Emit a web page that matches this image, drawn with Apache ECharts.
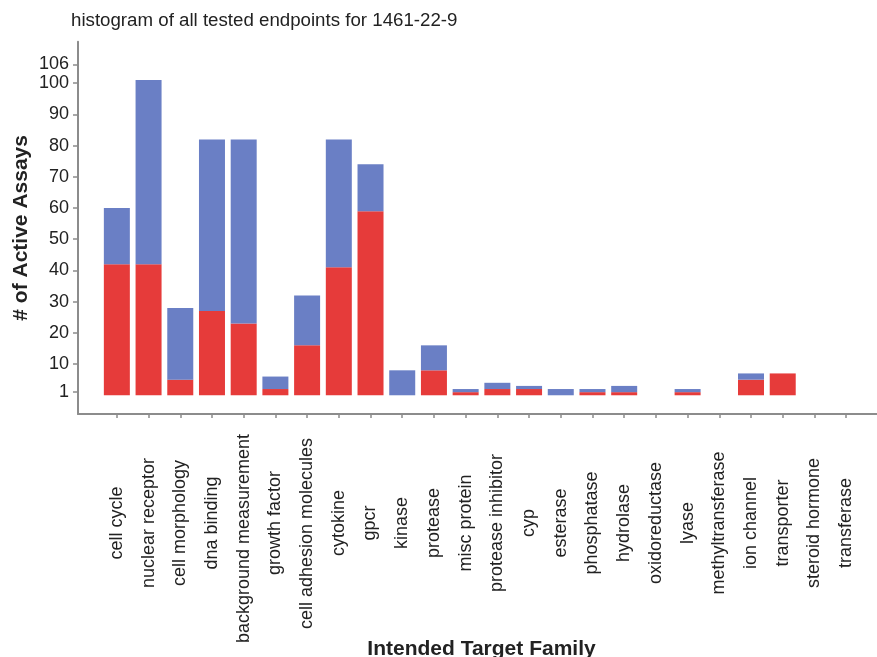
<!DOCTYPE html>
<html>
<head>
<meta charset="utf-8">
<script src="https://cdn.jsdelivr.net/npm/echarts@6/dist/echarts.min.js"></script>
<style>
  html, body { margin: 0; padding: 0; background: #fff; }
  #chart { width: 877px; height: 657px; }
</style>
</head>
<body>
<div id="chart"></div>
<script>
// Target families on the horizontal axis
const categories = [
  'cell cycle', 'nuclear receptor', 'cell morphology', 'dna binding',
  'background measurement', 'growth factor', 'cell adhesion molecules',
  'cytokine', 'gpcr', 'kinase', 'protease', 'misc protein',
  'protease inhibitor', 'cyp', 'esterase', 'phosphatase', 'hydrolase',
  'oxidoreductase', 'lyase', 'methyltransferase', 'ion channel',
  'transporter', 'steroid hormone', 'transferase'
];

// Lower (red) part of each stacked bar
const lowerCounts = [42, 42, 5, 27, 23, 2, 16, 41, 59, 0, 8, 1, 2, 2, 0, 1, 1, 0, 1, 0, 5, 7, 0, 0];

// Upper (blue) part stacked on top
const upperCounts = [18, 59, 23, 55, 59, 4, 16, 41, 15, 8, 8, 1, 2, 1, 2, 1, 2, 0, 1, 0, 2, 0, 0, 0];

// Tick labels on the count axis
const yTickValues = [1, 10, 20, 30, 40, 50, 60, 70, 80, 90, 100, 106];

const FONT = '"Liberation Sans", Arial, Helvetica, sans-serif';
const AXIS_GREY = '#8c8c8c';
const Y_MIN = -6;
const Y_MAX = 113.3;

// long labels sit a little lower so they keep clear of the axis
const labelPadRight = { 'background measurement': 31, 'cell adhesion molecules': 21 };

const categoryData = categories.map(function (name) {
  const pad = labelPadRight[name];
  return pad
    ? { value: name, textStyle: { align: 'center', verticalAlign: 'middle', padding: [0, pad, 0, 0] } }
    : name;
});

const chart = echarts.init(document.getElementById('chart'), null, { renderer: 'canvas' });

chart.setOption({
  animation: false,
  backgroundColor: '#ffffff',
  title: {
    text: 'histogram of all tested endpoints for 1461-22-9',
    left: 66,
    top: 6,
    textStyle: { fontFamily: FONT, fontSize: 18.7, fontWeight: 'normal', color: '#222' }
  },
  grid: [
    // plotting area for the bars
    { left: 101, right: 15, top: 41.7, bottom: 243, containLabel: false, outerBoundsMode: 'none' },
    // frame carrying the long axis lines and the count ticks
    { left: 78, right: 0, top: 41.7, bottom: 243, containLabel: false, outerBoundsMode: 'none' }
  ],
  xAxis: [
    {
      gridIndex: 0,
      type: 'category',
      data: categoryData,
      boundaryGap: true,
      axisLine: { show: false, onZero: false },
      axisTick: { show: true, alignWithLabel: true, length: 4, lineStyle: { color: AXIS_GREY, width: 1.5 } },
      axisLabel: {
        interval: 0,
        rotate: 90,
        align: 'center',
        verticalAlign: 'middle',
        margin: 109,
        fontFamily: FONT,
        fontSize: 18,
        color: '#222'
      },
      name: 'Intended Target Family',
      nameLocation: 'middle',
      nameGap: 225,
      nameMoveOverlap: false,
      nameTextStyle: { fontFamily: FONT, fontSize: 21, fontWeight: 'bold', color: '#222' },
      splitLine: { show: false }
    },
    {
      gridIndex: 1,
      type: 'value',
      min: 0,
      max: 1,
      axisLine: { show: true, onZero: false, lineStyle: { color: AXIS_GREY, width: 2 } },
      axisTick: { show: false },
      axisLabel: { show: false },
      splitLine: { show: false }
    }
  ],
  yAxis: [
    {
      gridIndex: 0,
      type: 'value',
      min: Y_MIN,
      max: Y_MAX,
      show: false,
      splitLine: { show: false }
    },
    {
      gridIndex: 1,
      type: 'value',
      min: Y_MIN,
      max: Y_MAX,
      axisLine: { show: true, onZero: false, lineStyle: { color: AXIS_GREY, width: 2 } },
      axisTick: { show: true, length: 5, customValues: yTickValues, lineStyle: { color: AXIS_GREY, width: 1.5 } },
      axisLabel: {
        customValues: yTickValues,
        margin: 9,
        fontFamily: FONT,
        fontSize: 18,
        color: '#222'
      },
      splitLine: { show: false },
      name: '# of Active Assays',
      nameLocation: 'middle',
      nameRotate: 90,
      nameGap: 46,
      nameMoveOverlap: false,
      nameTextStyle: { fontFamily: FONT, fontSize: 21, fontWeight: 'bold', color: '#222' }
    }
  ],
  series: [
    {
      type: 'bar',
      xAxisIndex: 0,
      yAxisIndex: 0,
      stack: 'assays',
      barWidth: 26,
      data: lowerCounts,
      itemStyle: { color: '#e63b3a' }
    },
    {
      type: 'bar',
      xAxisIndex: 0,
      yAxisIndex: 0,
      stack: 'assays',
      barWidth: 26,
      data: upperCounts,
      itemStyle: { color: '#6a7fc5' }
    }
  ]
});
</script>
</body>
</html>
